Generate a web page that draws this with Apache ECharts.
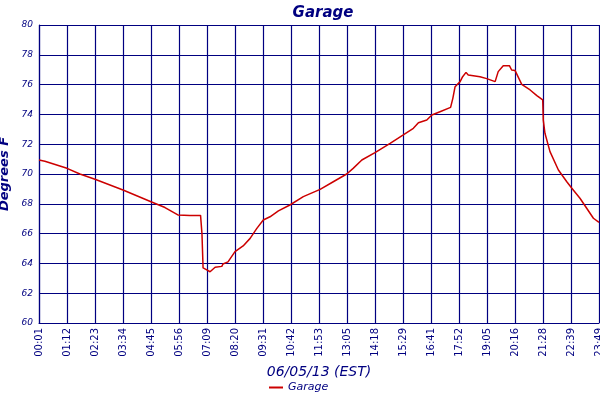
<!DOCTYPE html>
<html>
<head>
<meta charset="utf-8">
<script src="https://cdn.jsdelivr.net/npm/echarts@6/dist/echarts.min.js"></script>
<style>
  html, body { margin: 0; padding: 0; background: #fff; }
  #myGraph { width: 600px; height: 400px; }
</style>
</head>
<body>
<div id="myGraph"></div>
<script>
// tick labels along the bottom, one per grid column
const timeLabels = [
  "00:01", "01:12", "02:23", "03:34", "04:45", "05:56", "07:09", "08:20",
  "09:31", "10:42", "11:53", "13:05", "14:18", "15:29", "16:41", "17:52",
  "19:05", "20:16", "21:28", "22:39", "23:49"
];

// sample position (in tick steps from 00:01) and temperature
const samplePos = [
  0, 0.21, 1.0, 1.46, 2.0, 3.0, 4.0, 4.5, 4.96, 5.39, 5.77, 5.82, 5.86, 5.96,
  6.11, 6.29, 6.53, 6.57, 6.75, 7.0, 7.29, 7.54, 7.78, 8.01, 8.25, 8.55, 8.96,
  9.44, 10.04, 10.51, 10.99, 11.22, 11.53, 12.0, 12.54, 13.01, 13.37, 13.55,
  13.85, 14.03, 14.32, 14.7, 14.78, 14.86, 15.04, 15.13, 15.25, 15.33, 15.75,
  15.99, 16.29, 16.4, 16.58, 16.8, 16.88, 17.0, 17.24, 17.54, 17.78, 17.99,
  18.01, 18.07, 18.25, 18.55, 18.85, 19.03, 19.32, 19.56, 19.8, 20.0
];
const garageTemp = [
  70.94, 70.85, 70.38, 70.0, 69.65, 68.93, 68.14, 67.75, 67.25, 67.22, 67.22, 66.0, 63.7, 63.6,
  63.44, 63.74, 63.8, 63.96, 64.1, 64.79, 65.17, 65.68, 66.35, 66.91, 67.13, 67.52, 67.92,
  68.48, 68.97, 69.48, 70.0, 70.38, 70.94, 71.43, 72.06, 72.62, 73.07, 73.44,
  73.62, 73.96, 74.18, 74.47, 75.08, 75.86, 76.2, 76.53, 76.82, 76.64, 76.53,
  76.4, 76.2, 76.87, 77.27, 77.27, 76.98, 76.95, 76.02, 75.64, 75.26, 74.97,
  73.62, 72.73, 71.5, 70.27, 69.48, 69.04, 68.37, 67.7, 67.03, 66.75
];

let myChart = echarts.init(document.getElementById("myGraph"));
const navy = "#000080";
const font = "DejaVu Sans";

let option = {
  animation: false,
  title: {
    text: "Garage",
    left: 318,
    textAlign: "center",
    top: 1,
    textStyle: { color: navy, fontFamily: font, fontStyle: "italic", fontWeight: "bold", fontSize: 15 }
  },
  legend: {
    bottom: 2,
    left: 264,
    icon: "rect",
    itemWidth: 14,
    itemHeight: 2,
    itemGap: 4,
    textStyle: { color: navy, fontFamily: font, fontStyle: "italic", fontSize: 11 },
    data: ["Garage"]
  },
  grid: { left: 39, right: 1, top: 25, bottom: 77, containLabel: false, outerBoundsMode: "none" },
  xAxis: {
    type: "value",
    min: 0,
    max: timeLabels.length - 1,
    interval: 1,
    name: "06/05/13 (EST)",
    nameLocation: "middle",
    nameGap: 42,
    nameTextStyle: { color: navy, fontFamily: font, fontStyle: "italic", fontSize: 14 },
    axisLine: { lineStyle: { color: navy, width: 1 } },
    axisTick: { show: false },
    axisLabel: {
      rotate: 90,
      color: navy,
      fontFamily: font,
      fontSize: 10,
      margin: 5,
      showMinLabel: true,
      showMaxLabel: true,
      formatter: (v) => timeLabels[Math.round(v)]
    },
    splitLine: { show: true, lineStyle: { color: navy, width: 1.2 } }
  },
  yAxis: {
    type: "value",
    min: 60,
    max: 80,
    interval: 2,
    name: "Degrees F",
    nameLocation: "middle",
    nameGap: 21,
    nameTextStyle: { color: navy, fontFamily: font, fontStyle: "italic", fontWeight: "bold", fontSize: 13 },
    axisLine: { show: true, lineStyle: { color: navy, width: 1.2 } },
    axisTick: { show: false },
    axisLabel: { color: navy, fontFamily: font, fontStyle: "italic", fontSize: 9, margin: 6 },
    splitLine: { show: true, lineStyle: { color: navy, width: 1.2 } }
  },
  series: [{
    name: "Garage",
    type: "line",
    showSymbol: false,
    symbol: "none",
    lineStyle: { color: "#cc0000", width: 1.5 },
    itemStyle: { color: "#cc0000" },
    data: samplePos.map((p, i) => [p, garageTemp[i]])
  }]
};

option && myChart.setOption(option);
</script>
</body>
</html>
